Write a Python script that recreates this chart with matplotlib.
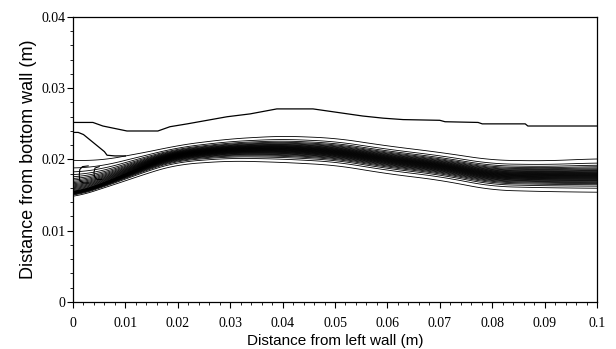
"""
Shear-layer contour plot: distance from left wall vs distance from bottom wall
"""
import numpy as np
import matplotlib
matplotlib.use('Agg')
import matplotlib.pyplot as plt
from matplotlib.ticker import MultipleLocator, FormatStrFormatter

# fonts: serif tick labels, sans axis labels
plt.rcParams['font.family'] = ['Liberation Serif', 'DejaVu Serif']
label_font = ['Liberation Sans', 'DejaVu Sans']

# band edges (m)
x_st = [0.0, 0.005, 0.010, 0.016, 0.020, 0.030, 0.040, 0.050, 0.060, 0.070, 0.080, 0.090, 0.100]
band_top = [0.0199, 0.0198, 0.0205, 0.0213, 0.0220, 0.0229, 0.0233, 0.0230, 0.0219, 0.0210, 0.0199, 0.0198, 0.0201]
band_core = [0.0153, 0.0164, 0.0180, 0.0199, 0.0207, 0.0214, 0.0215, 0.0211, 0.0200, 0.0191, 0.0178, 0.0177, 0.0177]
band_bot = [0.0146, 0.0158, 0.0170, 0.0185, 0.0193, 0.0198, 0.0196, 0.0192, 0.0180, 0.0171, 0.0157, 0.0155, 0.0154]

# outermost contour above the band
outer_x = [0.0, 0.0038, 0.0057, 0.0103, 0.0162, 0.0185, 0.0218, 0.0256, 0.0294, 0.0338, 0.0389,
           0.0458, 0.0515, 0.0553, 0.0592, 0.0630, 0.0700, 0.0710, 0.0773, 0.0781, 0.0863, 0.0868, 0.1]
outer_y = [0.0252, 0.0252, 0.0247, 0.0240, 0.0240, 0.0246, 0.0250, 0.0255, 0.0260, 0.0264, 0.0271,
           0.0271, 0.0265, 0.0261, 0.0258, 0.0256, 0.0255, 0.0253, 0.0252, 0.0250, 0.0250, 0.0247, 0.0247]

# recirculation loop at the left wall
loop_x = [0.0, 0.001, 0.002, 0.003, 0.004, 0.005, 0.006, 0.0065, 0.008, 0.010]
loop_y = [0.0238, 0.0238, 0.0235, 0.0229, 0.0223, 0.0217, 0.0211, 0.0206, 0.0205, 0.0205]

# fingers near the wall
finger1_x = [0.0029, 0.0018, 0.0013, 0.0012, 0.0013, 0.0020, 0.0030]
finger1_y = [0.0191, 0.0190, 0.0186, 0.0178, 0.0170, 0.0167, 0.0167]
finger2_x = [0.0050, 0.0042, 0.0040, 0.0041, 0.0046, 0.0055]
finger2_y = [0.0190, 0.0188, 0.0182, 0.0176, 0.0172, 0.0172]


def smooth_edge(xg, xs, vals, win=41):
    # band edge along x, with the corners rounded off
    e = np.interp(xg, xs, vals)
    pad = win // 2
    e = np.pad(e, pad, mode='edge')
    return np.convolve(e, np.ones(win) / win, mode='valid')


# build the field across the band
xg = np.linspace(0, 0.1, 500)
yg = np.linspace(0.012, 0.026, 700)
c = smooth_edge(xg, x_st, band_core)
t = smooth_edge(xg, x_st, band_top)
b = smooth_edge(xg, x_st, band_bot)
X, Y = np.meshgrid(xg, yg)
s = np.where(Y >= c, (Y - c) / (t - c), (Y - c) / (c - b))
k = 2.0
u = np.tanh(k * s)
levels = np.linspace(-np.tanh(k), np.tanh(k), 35)

fig = plt.figure(figsize=(6.16, 3.49), dpi=100)
ax = fig.add_axes([0.1185, 0.1347, 0.8507, 0.8166])

ax.contour(X, Y, u, levels=levels, colors='black', linewidths=0.6, linestyles='solid')
ax.plot(outer_x, outer_y, color='black', lw=0.9)
ax.plot(loop_x, loop_y, color='black', lw=0.9)
ax.plot(finger1_x, finger1_y, color='black', lw=0.8)
ax.plot(finger2_x, finger2_y, color='black', lw=0.8)

ax.set_xlim(0, 0.1)
ax.set_ylim(0, 0.04)
ax.xaxis.set_major_locator(MultipleLocator(0.01))
ax.xaxis.set_minor_locator(MultipleLocator(0.002))
ax.yaxis.set_major_locator(MultipleLocator(0.01))
ax.yaxis.set_minor_locator(MultipleLocator(0.002))
ax.xaxis.set_major_formatter(FormatStrFormatter('%g'))
ax.yaxis.set_major_formatter(FormatStrFormatter('%g'))
ax.tick_params(which='both', direction='out', top=False, right=False, labelsize=10)
ax.tick_params(axis='x', which='major', length=4, pad=6.5)
ax.tick_params(axis='y', which='major', length=4, pad=1.5)
ax.tick_params(which='minor', length=2.5)
for sp in ax.spines.values():
    sp.set_linewidth(0.9)

ax.set_xlabel('Distance from left wall (m)', family=label_font, fontsize=11, labelpad=3)
ax.set_ylabel('Distance from bottom wall (m)', family=label_font, fontsize=13, labelpad=3)

plt.savefig('out.png', dpi=100)
plt.close()
